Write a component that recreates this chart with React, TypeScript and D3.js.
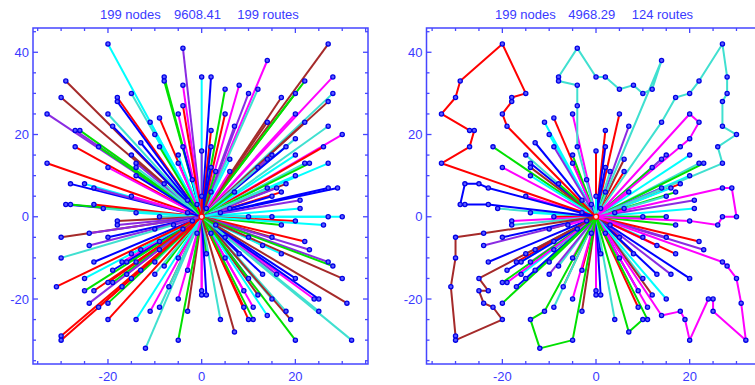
import React from "react";
import * as d3 from "d3";

// ---- data: customer node coordinates (depot is at 0,0) ----
const nodes: [number, number][] = [
  [-20, 42], [-4, 41], [0, 34], [-8, 34], [-8, 33], [-29, 33], [-4, 32], [-30, 29], [-18, 29], [-18, 28],
  [-15, 30], [-4, 27], [-5, 25], [-33, 25], [-20, 25], [-9, 24], [-11, 23], [-19, 22], [-27, 21], [-26, 21],
  [-10, 20], [-13, 18], [0, 16], [-27, 17], [-22, 17], [-9, 17], [-4, 17], [-5, 15], [-5, 13], [-15, 15],
  [-14, 13], [-14, 12], [-20, 12], [-33, 13], [-14, 10], [-2, 9], [-28, 8], [-25, 8], [-23, 7], [-8, 8],
  [-15, 5], [-3, 4], [-29, 3], [-28, 3], [-23, 3], [-21, 2], [-14, 1], [-9, 0],
  [27, 42], [14, 38], [2, 34], [28, 34], [22, 33], [5, 31], [8, 32], [10, 30], [12, 31], [28, 30],
  [17, 29], [20, 30], [27, 28], [5, 25], [20, 25], [2, 21], [7, 22], [14, 23], [22, 23], [27, 22],
  [30, 20], [20, 19], [2, 17], [18, 17], [26, 17], [3, 11], [2, 12], [6, 14], [6, 11], [14, 14],
  [15, 15], [12, 12], [20, 15], [22, 13], [23, 13], [27, 13], [20, 10], [18, 8], [16, 7], [14, 7],
  [17, 6], [7, 6], [15, 5], [27, 7], [29, 7], [21, 4], [6, 2], [21, 2], [0, 5], [10, 0],
  [15, 0], [27, 0], [30, 0],
  [-18, -1], [-18, -2], [-30, -5], [-24, -4], [-20, -5], [-10, -3], [-2, -1], [-4, -3], [-24, -7], [-9, -6],
  [-30, -10], [-23, -11], [-15, -9], [-13, -8], [-9, -8], [-17, -11], [-16, -11], [-14, -11], [-10, -11], [-5, -10],
  [-8, -12], [-19, -13], [-13, -13], [-3, -13], [-25, -15], [-16, -14], [-10, -14], [-20, -16], [-19, -16], [-15, -15],
  [-31, -17], [-17, -17], [-7, -17], [-25, -18], [-23, -18], [0, -18], [0, -19], [-5, -20], [-24, -21], [-22, -22],
  [-20, -21], [-3, -23], [-11, -23], [-9, -22], [-20, -25], [-14, -25], [-30, -29], [-30, -30], [-5, -30], [-12, -32],
  [17, -2], [20, -1], [26, -2], [2, -4], [5, -5], [10, -5], [15, -5], [22, -6], [13, -7], [23, -8],
  [1, -9], [8, -9], [17, -9], [5, -10], [27, -11], [28, -12], [13, -14], [16, -14], [20, -15], [10, -15],
  [30, -15], [9, -18], [12, -19], [1, -19], [15, -20], [24, -20], [25, -20], [31, -21], [9, -22], [11, -22],
  [18, -23], [25, -23], [14, -24], [4, -25], [10, -25], [11, -25], [19, -25], [7, -28], [20, -30], [32, -30],
  [1, 2], [-1, 3], [3, -2], [-3, 1], [4, 1], [-1, -4], [2, 6], [-6, -2],
];

// ---- data: colour of the single-node routes ----
const leftRouteColor: [number, number, string][] = [
  [-20, 42, "C"], [-4, 41, "P"], [0, 34, "C"], [-8, 34, "G"], [-8, 33, "G"], [-29, 33, "N"], [-4, 32, "M"], [-30, 29, "N"],
  [-18, 29, "R"], [-18, 28, "B"], [-15, 30, "T"], [-4, 27, "R"], [-5, 25, "M"], [-33, 25, "P"], [-20, 25, "T"], [-9, 24, "R"],
  [-11, 23, "C"], [-19, 22, "B"], [-27, 21, "P"], [-26, 21, "G"], [-10, 20, "C"], [-13, 18, "B"], [-27, 17, "R"], [-22, 17, "G"],
  [-33, 13, "R"], [-20, 12, "M"], [-28, 8, "B"], [-25, 8, "C"], [-29, 3, "B"], [-28, 3, "G"], [-23, 3, "R"], [-21, 2, "T"],
  [-14, 1, "C"], [-15, 5, "M"],
  [27, 42, "N"], [14, 38, "M"], [2, 34, "B"], [28, 34, "M"], [22, 33, "G"], [5, 31, "G"], [8, 32, "M"], [10, 30, "P"],
  [12, 31, "T"], [28, 30, "T"], [17, 29, "N"], [20, 30, "G"], [27, 28, "N"], [5, 25, "R"], [20, 25, "M"], [2, 21, "R"],
  [7, 22, "P"], [14, 23, "N"], [22, 23, "N"], [27, 22, "T"], [30, 20, "M"], [20, 19, "T"], [2, 17, "B"], [18, 17, "B"],
  [26, 17, "R"], [20, 15, "C"], [22, 13, "T"], [23, 13, "G"], [27, 13, "C"], [20, 10, "C"], [27, 7, "B"], [29, 7, "B"],
  [21, 4, "P"], [21, 2, "C"], [30, 0, "C"], [27, 0, "C"],
  [-30, -5, "N"], [-24, -4, "P"], [-20, -5, "B"], [-24, -7, "P"], [-30, -10, "T"], [-23, -11, "B"], [-25, -15, "C"], [-31, -17, "R"],
  [-25, -18, "G"], [-23, -18, "R"], [-24, -21, "P"], [-22, -22, "R"], [-20, -21, "G"], [-20, -25, "R"], [-14, -25, "C"], [-30, -29, "R"],
  [-30, -30, "R"], [-12, -32, "T"], [-5, -30, "G"], [-11, -23, "M"], [-9, -22, "T"], [-3, -23, "N"], [-5, -20, "M"],
  [26, -2, "C"], [17, -2, "G"], [22, -6, "R"], [23, -8, "P"], [27, -11, "P"], [28, -12, "G"], [30, -15, "N"], [31, -21, "N"],
  [32, -30, "T"], [20, -30, "G"], [24, -20, "M"], [25, -20, "B"], [25, -23, "T"], [19, -25, "N"], [18, -23, "T"], [7, -28, "N"],
  [4, -25, "T"], [10, -25, "R"], [11, -25, "G"], [9, -22, "R"], [11, -22, "M"], [14, -24, "C"], [20, -15, "B"], [16, -14, "P"],
  [13, -14, "B"], [0, -18, "M"], [0, -19, "M"], [1, -19, "B"],
];

// ---- data: multi-stop routes of the improved solution (right panel) ----
const route1: [number, number][] = [[-19, 22], [-20, 25], [-18, 28], [-18, 29], [-15, 30], [-20, 42], [-29, 33], [-30, 29], [-33, 25], [-27, 21], [-26, 21], [-27, 17], [-33, 13]];
const route2: [number, number][] = [[-4, 17], [-4, 27], [-4, 32], [-8, 33], [-8, 34], [-4, 41], [0, 34], [2, 34], [5, 31], [8, 32], [10, 30], [12, 31], [14, 38]];
const route3: [number, number][] = [[14, 23], [17, 29], [20, 30], [22, 33], [27, 42], [28, 34], [28, 30], [27, 28], [27, 22], [30, 20], [26, 17], [27, 13]];
const route4: [number, number][] = [[20, 25], [22, 23], [20, 19], [18, 17]];
const route5: [number, number][] = [[27, 7], [29, 7], [30, 0], [27, 0], [26, -2], [20, -1]];
const route6: [number, number][] = [[27, -11], [28, -12], [30, -15], [31, -21], [32, -30], [25, -23], [25, -20], [24, -20], [20, -30], [19, -25], [18, -23], [14, -24]];
const route7: [number, number][] = [[-23, 7], [-25, 8], [-28, 8], [-29, 3], [-28, 3], [-23, 3]];
const route8: [number, number][] = [[-25, -15], [-23, -18], [-25, -18], [-24, -21], [-22, -22], [-20, -25], [-30, -30], [-30, -29], [-31, -17], [-30, -10], [-30, -5], [-24, -4]];
const route9: [number, number][] = [[-11, -23], [-14, -25], [-12, -32], [-5, -30]];
const route10: [number, number][] = [[7, -28], [10, -25], [11, -25]];
const multiRoutes = [route1, route2, route3, route4, route5, route6, route7, route8, route9, route10];
const multiRouteColors = ["R", "T", "T", "M", "M", "M", "B", "N", "G", "G"];

const colorCodes: Record<string, string> = {
  R: "#ff0000", G: "#00e000", B: "#0000ff", C: "#00ffff", M: "#ff00ff", N: "#a52a2a", P: "#8a2be2", T: "#40e0d0",
};
const paletteOrder = ["R", "G", "B", "C", "M", "N", "P", "T"];

const leftTitle = ["199 nodes", "9608.41", "199 routes"];
const rightTitle = ["199 nodes", "4968.29", "124 routes"];
const xMajorTicks = [-20, 0, 20];
const yMajorTicks = [-20, 0, 20, 40];

const AXIS = "#4646ff";
const TEXT = "#3a3aff";
const FONT = "'Liberation Sans', Arial, Helvetica, sans-serif";

type Scale = d3.ScaleLinear<number, number>;

function Frame({ x, y }: { x: Scale; y: Scale }) {
  const [x0, x1] = x.range();
  const [y0, y1] = y.range();
  const xd = x.domain();
  const yd = y.domain();
  const xMinor = d3.range(Math.ceil(xd[0] / 5) * 5, xd[1] + 0.001, 5);
  const yMinor = d3.range(Math.ceil(yd[0] / 5) * 5, yd[1] + 0.001, 5);
  const els: JSX.Element[] = [];
  xMinor.forEach((v, i) => {
    const len = v % 20 === 0 ? 5 : 3;
    const px = x(v);
    els.push(<line key={"xb" + i} x1={px} x2={px} y1={y0} y2={y0 - len} stroke={AXIS} strokeWidth={1.3} />);
    els.push(<line key={"xt" + i} x1={px} x2={px} y1={y1} y2={y1 + len} stroke={AXIS} strokeWidth={1.3} />);
  });
  yMinor.forEach((v, i) => {
    const len = v % 20 === 0 ? 5 : 3;
    const py = y(v);
    els.push(<line key={"yl" + i} x1={x0} x2={x0 + len} y1={py} y2={py} stroke={AXIS} strokeWidth={1.3} />);
    els.push(<line key={"yr" + i} x1={x1} x2={x1 - len} y1={py} y2={py} stroke={AXIS} strokeWidth={1.3} />);
  });
  return (
    <g>
      <rect x={x0} y={y1} width={x1 - x0} height={y0 - y1} fill="none" stroke={AXIS} strokeWidth={1.5} />
      {els}
      {xMajorTicks.map((v) => (
        <text key={"xl" + v} x={x(v)} y={y0 + 17} textAnchor="middle" fontSize={13} fill={TEXT} fontFamily={FONT}>
          {v}
        </text>
      ))}
      {yMajorTicks.map((v) => (
        <text key={"yl" + v} x={x0 - 4} y={y(v) + 4.5} textAnchor="end" fontSize={13} fill={TEXT} fontFamily={FONT}>
          {v}
        </text>
      ))}
    </g>
  );
}

function Title({ parts, xs }: { parts: string[]; xs: number[] }) {
  return (
    <g>
      {parts.map((p, i) => (
        <text key={i} x={xs[i]} y={18.5} fontSize={13} fill={TEXT} fontFamily={FONT}>
          {p}
        </text>
      ))}
    </g>
  );
}

function Markers({ x, y }: { x: Scale; y: Scale }) {
  return (
    <g>
      {nodes.map((n, i) => (
        <circle key={i} cx={x(n[0])} cy={y(n[1])} r={2.1} fill="#5c5cff" stroke="#0000e6" strokeWidth={1.3} />
      ))}
      <circle cx={x(0)} cy={y(0)} r={2.6} fill="#ffe0e0" stroke="#ff0000" strokeWidth={1.4} />
    </g>
  );
}

export default function App() {
  const y = d3.scaleLinear().domain([-35.8, 45.9]).range([364, 28]);
  const xL = d3.scaleLinear().domain([-36, 35.5]).range([33, 368]);
  const xR = d3.scaleLinear().domain([-36.2, 35.3]).range([426.5, 761.3]);

  const line = (xs: Scale) =>
    d3
      .line<[number, number]>()
      .x((d) => xs(d[0]))
      .y((d) => y(d[1]));

  const key = (p: [number, number]) => p[0] + "," + p[1];
  const leftColorMap = new Map<string, string>();
  leftRouteColor.forEach(([a, b, c]) => leftColorMap.set(a + "," + b, c));
  const inMulti = new Set<string>();
  multiRoutes.forEach((r) => r.forEach((p) => inMulti.add(key(p))));
  const singles = nodes.filter((n) => !inMulti.has(key(n)));

  const lineL = line(xL);
  const lineR = line(xR);
  const leftColor = (n: [number, number], i: number) =>
    colorCodes[leftColorMap.get(key(n)) || paletteOrder[i % paletteOrder.length]];
  const rightColor = (n: [number, number], i: number) =>
    colorCodes[leftColorMap.get(key(n)) || paletteOrder[(i * 3 + 1) % paletteOrder.length]];

  return (
    <svg width={755} height={385} style={{ position: "absolute", left: 0, top: 0, background: "#fff" }}>
      <rect x={0} y={0} width={755} height={385} fill="#ffffff" />
      <Title parts={leftTitle} xs={[100, 174, 237.3]} />
      <g>
        {nodes.map((n, i) => (
          <path key={i} d={lineL([[0, 0], n]) || ""} stroke={leftColor(n, i)} strokeWidth={2} fill="none" />
        ))}
      </g>
      <Markers x={xL} y={y} />
      <Frame x={xL} y={y} />

      <Title parts={rightTitle} xs={[495, 568.3, 631.7]} />
      <g>
        {singles.map((n, i) => (
          <path key={"s" + i} d={lineR([[0, 0], n]) || ""} stroke={rightColor(n, i)} strokeWidth={2} fill="none" />
        ))}
        {multiRoutes.map((r, i) => (
          <path
            key={"m" + i}
            d={lineR([[0, 0], ...r, [0, 0]]) || ""}
            stroke={colorCodes[multiRouteColors[i]]}
            strokeWidth={2}
            fill="none"
            strokeLinejoin="round"
          />
        ))}
      </g>
      <Markers x={xR} y={y} />
      <Frame x={xR} y={y} />
    </svg>
  );
}
